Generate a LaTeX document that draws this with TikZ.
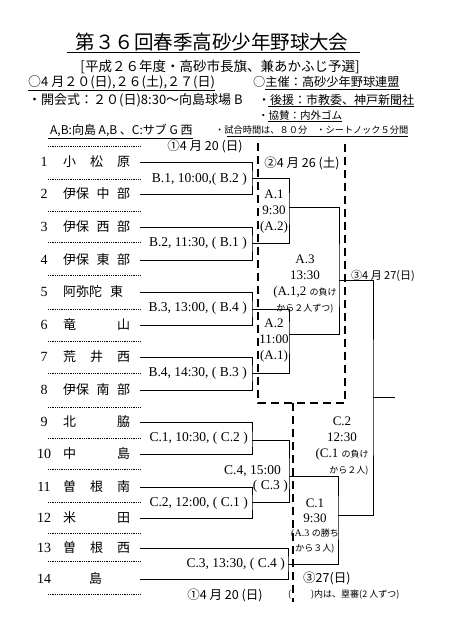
\documentclass[tikz,border=0pt]{standalone}
\usepackage{fontspec}
\setmainfont{Liberation Serif}
\newfontfamily\jp{Noto Sans CJK JP}
\usetikzlibrary{positioning}
\newcommand{\fsz}[1]{\fontsize{#1}{#1}\selectfont}
\newcommand{\tname}[1]{\makebox[67pt][l]{#1}}
\tikzset{
  team node/.style={anchor=west, inner sep=0pt, font=\jp\fsz{13}},
  num node/.style={inner sep=0pt, font=\fsz{14}},
  game node/.style={anchor=east, inner sep=0pt, font=\fsz{13.5}},
  box text/.style={inner sep=0pt, align=center, font=\fontsize{13}{16}\selectfont},
  head node/.style={anchor=west, inner sep=0pt, font=\jp\fsz{13}},
  date node/.style={inner sep=0pt, font=\jp\fsz{12.5}},
  bracket/.style={draw, line width=0.7pt},
  sep line/.style={draw, line width=0.7pt, dash pattern=on 0.7pt off 1.1pt},
  venue line/.style={draw, line width=2.2pt, dash pattern=on 8pt off 5pt},
}
\begin{document}
\begin{tikzpicture}[x=1pt, y=-1pt]
    \useasboundingbox (0,0) rectangle (452,640);
    % Heading
    \node[head node, anchor=center, font=\jp\fsz{19.5}] (title) at (212,42) {第３６回春季高砂少年野球大会};
    \node[head node, anchor=center, font=\jp\fsz{13.5}] (sub) at (220,67) {[平成２６年度・高砂市長旗、兼あかふじ予選]};
    \node[head node] (date) at (28,82) {○4 月２０(日),２６(土),２７(日)};
    \node[head node, font=\jp\fsz{12.2}] (host) at (253,82) {○主催：高砂少年野球連盟};
    \node[head node] (open) at (28,100) {・開会式：２０(日)8:30～向島球場 B};
    \node[head node, font=\jp\fsz{12}] (back) at (258,100) {・後援：市教委、神戸新聞社};
    \node[head node, font=\jp\fsz{10.5}] (spon) at (258,115) {・協賛：内外ゴム};
    \node[head node, font=\jp\fsz{12}] (field) at (50,130) {A,B:向島 A,B 、C:サブ G 西};
    \node[head node, font=\jp\fsz{9.2}] (rule) at (215,130) {・試合時間は、８０分　・シートノック５分間};
    \draw[line width=1.4pt] ([xshift=-8pt,yshift=-1pt]title.south west) -- ([xshift=11pt,yshift=-1pt]title.south east);
    \draw[line width=0.6pt] ([yshift=-1.5pt]date.south west) -- ([yshift=-1.5pt]date.south east);
    \draw[line width=0.6pt] ([xshift=12pt,yshift=-1pt]host.south west) -- ([yshift=-1pt]host.south east);
    \draw[line width=0.6pt] ([xshift=10pt,yshift=-1pt]back.south west) -- ([yshift=-1pt]back.south east);
    \draw[line width=0.6pt] ([xshift=10pt,yshift=-1pt]spon.south west) -- ([yshift=-1pt]spon.south east);
    \draw[line width=0.6pt] ([xshift=-2pt,yshift=-1.5pt]field.south west) -- ([yshift=-1.5pt]field.south east);
    \draw[line width=0.6pt] ([xshift=12pt,yshift=-1.5pt]rule.south west) -- ([yshift=-1.5pt]rule.south east);
    % Dates
    \node[date node] (day1) at (205,146) {①4 月 20 (日)};
    \node[date node] (day2) at (302,163) {②4 月 26 (土)};
    \node[date node, anchor=west, font=\jp\fsz{11}] (day3) at (351,276) {③4 月 27(日)};
    \node[date node, anchor=west] (day3b) at (303,578) {③27(日)};
    \node[date node] (day1b) at (225,595) {①4 月 20 (日)};
    \node[date node, anchor=west, font=\jp\fsz{9}] (ump) at (288,595) {(};
    \node[date node, anchor=west, font=\jp\fsz{9}] (ump2) at (311,595) {)内は、塁審(2 人ずつ)};
    % Teams
    \node[team node] (1) at (63,162) {\tname{小\hfill 松\hfill 原}};
    \node[team node] (2) at (63,194) {\tname{伊保\hfill 中\hfill 部}};
    \node[team node] (3) at (63,227) {\tname{伊保\hfill 西\hfill 部}};
    \node[team node] (4) at (63,260) {\tname{伊保\hfill 東\hfill 部}};
    \node[team node] (5) at (63,292) {\tname{阿弥陀\hspace{8pt}東\hfill}};
    \node[team node] (6) at (63,325) {\tname{竜\hfill 山}};
    \node[team node] (7) at (63,357) {\tname{荒\hfill 井\hfill 西}};
    \node[team node] (8) at (63,390) {\tname{伊保\hfill 南\hfill 部}};
    \node[team node] (9) at (63,422) {\tname{北\hfill 脇}};
    \node[team node] (10) at (63,454) {\tname{中\hfill 島}};
    \node[team node] (11) at (63,487) {\tname{曽\hfill 根\hfill 南}};
    \node[team node] (12) at (63,518) {\tname{米\hfill 田}};
    \node[team node] (13) at (63,548) {\tname{曽\hfill 根\hfill 西}};
    \node[team node] (14) at (63,579) {\tname{\hspace{26pt}島\hfill}};
    \foreach \i/\y in {1/162,2/194,3/227,4/260,5/292,6/325,7/357,8/390,9/422,10/454,11/487,12/518,13/548,14/579}
        \node[num node] (n\i) at (44,\y) {\i};
    \foreach \y in {146,179,211,242,275,309,341,373,407,438,469,502,533,561,594}
        \draw[sep line] (48,\y) -- (141,\y);
    % Games
    \coordinate (b1) at (252,178);
    \coordinate (b2) at (252,243);
    \coordinate (b3) at (252,309);
    \coordinate (b4) at (252,373);
    \coordinate (c1) at (252,440);
    \coordinate (c2) at (252,502);
    \coordinate (c3) at (288,564);
    \coordinate (a1) at (289,207);
    \coordinate (a2) at (289,334);
    \coordinate (c4) at (289,476);
    \coordinate (a3) at (339,280);
    \coordinate (f1) at (338,515);
    \coordinate (f2) at (373,397);
    \coordinate (win) at (395,397);
    \node[game node] (lb1) at (247,179) {B.1, 10:00,( B.2 )};
    \node[game node] (lb2) at (247,243) {B.2, 11:30, ( B.1 )};
    \node[game node] (lb3) at (247,308) {B.3, 13:00, ( B.4 )};
    \node[game node] (lb4) at (247,373) {B.4, 14:30, ( B.3 )};
    \node[game node] (lc1) at (248,438) {C.1, 10:30, ( C.2 )};
    \node[game node] (lc2) at (248,503) {C.2, 12:00, ( C.1 )};
    \node[game node] (lc3) at (285,564) {C.3, 13:30, ( C.4 )};
    \node[game node] (lc4) at (281,471) {C.4, 15:00};
    \node[game node] (lc4u) at (288,486) {( C.3 )};
    \node[box text] (la1) at (274,212) {A.1\\9:30\\(A.2)};
    \node[box text] (la2) at (274,341) {A.2\\11:00\\(A.1)};
    \node[box text] (la3) at (305,284) {A.3\\13:30\\(A.1,2 {\jp\fsz{9}の負け}\\{\jp\fsz{9}から２人ずつ)}};
    \node[box text] (lf2) at (342,446) {C.2\\12:30\\(C.1 {\jp\fsz{9}の負け}\\\hspace{14pt}{\jp\fsz{9}から２人)}};
    \node[box text, font=\fontsize{13}{14.7}\selectfont] (lf1) at (315,526) {C.1\\9:30\\{\fsz{10}(A.3 }{\jp\fsz{9}の勝ち}\\{\jp\fsz{9}から３人)}};
    % Paths
    \path[bracket]
        ([xshift=10pt]1.east) -| (b1) |- ([xshift=10pt]2.east)
        ([xshift=10pt]3.east) -| (b2) |- ([xshift=10pt]4.east)
        ([xshift=10pt]5.east) -| (b3) |- ([xshift=10pt]6.east)
        ([xshift=10pt]7.east) -| (b4) |- ([xshift=10pt]8.east)
        ([xshift=10pt]9.east) -| (c1) |- ([xshift=10pt]10.east)
        ([xshift=10pt]11.east) -| (c2) |- ([xshift=10pt]12.east)
        ([xshift=10pt]13.east) -| (c3) |- ([xshift=10pt]14.east)
        (b1) -| (a1) |- (b2)
        (b3) -| (a2) |- (b4)
        (c1) -| (c4) |- (c2)
        (a1) -| (a3) |- (a2)
        (c4) -| (f1) |- (c3)
        (a3) -| (f2) |- (f1)
        (f2) -- (win);
    % Grounds
    \draw[venue line] (258,143) -- (258,403) -- (345,403) -- (345,143);
    \draw[venue line] (293,403) -- (293,602);
\end{tikzpicture}
\end{document}
